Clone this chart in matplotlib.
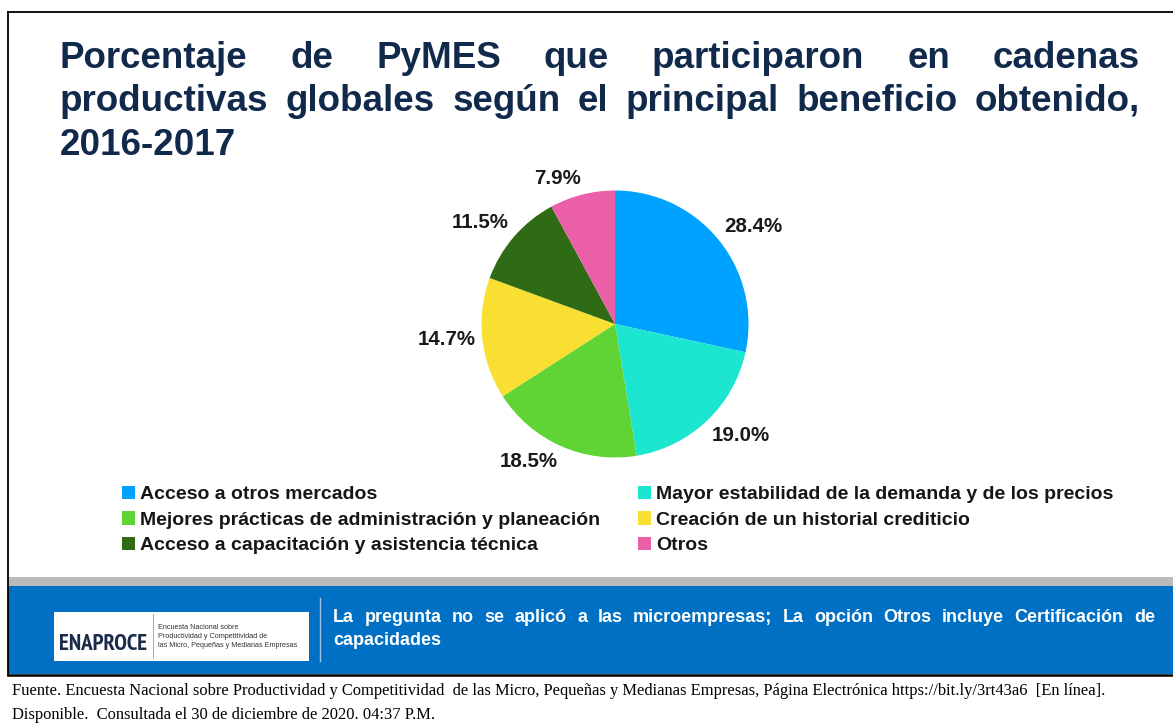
import matplotlib
matplotlib.use("Agg")
import matplotlib.pyplot as plt
from matplotlib.patches import Rectangle
from matplotlib.lines import Line2D
from matplotlib import font_manager

# datos
categorias = ['Acceso a otros mercados',
              'Mayor estabilidad de la demanda y de los precios',
              'Mejores prácticas de administración y planeación',
              'Creación de un historial crediticio',
              'Acceso a capacitación y asistencia técnica',
              'Otros']
porcentajes = [28.4, 19.0, 18.5, 14.7, 11.5, 7.9]
colores = ['#00A2FF', '#1CE6CF', '#5FD434', '#F8DF32', '#2E6B14', '#EA5FA8']

titulo = ['Porcentaje de PyMES que participaron en cadenas',
          'productivas globales según el principal beneficio obtenido,',
          '2016-2017']
nota = ['La pregunta no se aplicó a las microempresas; La opción Otros incluye Certificación de',
        'capacidades']
fuente = ['Fuente. Encuesta Nacional sobre Productividad y Competitividad  de las Micro, Pequeñas y Medianas Empresas, Página Electrónica https://bit.ly/3rt43a6  [En línea].',
          'Disponible.  Consultada el 30 de diciembre de 2020. 04:37 P.M.']

W, H = 1173, 723
fig = plt.figure(figsize=(W / 100, H / 100), dpi=100)
fig.patch.set_facecolor('white')
renderer = fig.canvas.get_renderer()


def fx(x):
    return x / W


def fy(y):
    return 1 - y / H


def justificar(linea, y, x0, x1, **kw):
    palabras = linea.split()
    textos = [fig.text(0, fy(y), p, va='baseline', ha='left', **kw) for p in palabras]
    anchos = [t.get_window_extent(renderer).width for t in textos]
    hueco = (x1 - x0 - sum(anchos)) / max(len(palabras) - 1, 1)
    x = x0
    for t, a in zip(textos, anchos):
        t.set_x(fx(x))
        x += a + hueco


def fuente_estrecha():
    # busca una fuente condensada en negrita para el logo
    cands = []
    for f in font_manager.fontManager.ttflist:
        nombre = (f.name + ' ' + f.fname).lower()
        estrecha = 'narrow' in nombre or 'condensed' in nombre or 'cond' in f.fname.lower()
        negrita = f.weight in (600, 700, 800, 900, 'bold', 'heavy', 'black', 'semibold')
        if estrecha and negrita and 'mono' not in nombre and 'serif' not in f.name.lower():
            cands.append(f)
    if not cands:
        return dict(family='Liberation Sans', fontweight='bold')
    cands.sort(key=lambda f: ('narrow' not in f.fname.lower(), f.fname))
    return dict(fontproperties=font_manager.FontProperties(fname=cands[0].fname))


# marco y franjas
fig.add_artist(Line2D([fx(8), fx(W)], [fy(12), fy(12)], color='black', lw=1.3))
fig.add_artist(Line2D([fx(8), fx(8)], [fy(12), fy(675)], color='black', lw=1.3))
fig.add_artist(Rectangle((fx(8), fy(586)), fx(W) - fx(8), fy(577) - fy(586),
                         color='#BBBBBB', lw=0))
fig.add_artist(Rectangle((fx(8), fy(674)), fx(W) - fx(8), fy(586) - fy(674),
                         color='#0070C4', lw=0))
fig.add_artist(Line2D([fx(8), fx(W)], [fy(675), fy(675)], color='black', lw=1.8))

# titulo
tit_kw = dict(fontsize=26.5, fontweight='bold', color='#11294B', family='Liberation Sans')
justificar(titulo[0], 68, 60, 1140, **tit_kw)
justificar(titulo[1], 111, 60, 1140, **tit_kw)
fig.text(fx(60), fy(155), titulo[2], va='baseline', ha='left', **tit_kw)

# pastel
cx, cy, r = 615, 324, 133.5
ax = fig.add_axes([fx(cx - r), fy(cy + r), (2 * r) / W, (2 * r) / H])
etiq = [f'{v:.1f}%' for v in porcentajes]
cunas, etiquetas = ax.pie(porcentajes, labels=etiq, colors=colores, startangle=90,
                          counterclock=False, labeldistance=1.05,
                          wedgeprops=dict(linewidth=0))
for t in etiquetas:
    t.set_fontsize(14.8)
    t.set_fontweight('bold')
    t.set_color('#1A1A1A')
    t.set_family('Liberation Sans')
    y = t.get_position()[1]
    if y > 0.3:
        t.set_va('bottom')
    elif y < -0.3:
        t.set_va('top')
    else:
        t.set_va('center')
ax.set_xlim(-1, 1)
ax.set_ylim(-1, 1)
ax.axis('off')

# leyenda (orden por filas)
orden = [0, 2, 4, 1, 3, 5]
leg = fig.legend([cunas[i] for i in orden], [categorias[i] for i in orden],
                 ncol=2, loc='upper left', bbox_to_anchor=(fx(122), fy(486)),
                 frameon=False, handlelength=0.68, handleheight=0.68,
                 handletextpad=0.25, columnspacing=1.95, labelspacing=0.41,
                 borderaxespad=0, borderpad=0,
                 prop=dict(family='Liberation Sans', weight='bold', size=14.0))
for t in leg.get_texts():
    t.set_color('#161616')

# logo
fig.add_artist(Rectangle((fx(54), fy(661)), fx(309) - fx(54), fy(612) - fy(661),
                         color='white', lw=0))
logo = fig.text(fx(59), fy(650), 'ENAPROCE', va='baseline', ha='left',
                color='#1B2A48', **fuente_estrecha())
logo.set_fontsize(20)
ancho = logo.get_window_extent(renderer).width
logo.set_fontsize(min(20 * 88 / ancho, 27))
fig.add_artist(Line2D([fx(153), fx(153)], [fy(614), fy(658)], color='#9A9A9A', lw=0.6))
for i, s in enumerate(['Encuesta Nacional sobre',
                       'Productividad y Competitividad de',
                       'las Micro, Pequeñas y Medianas Empresas']):
    fig.text(fx(158), fy(629 + 9 * i), s, va='baseline', ha='left', fontsize=5.2,
             color='#333333', family='Liberation Sans')
fig.add_artist(Line2D([fx(320), fx(320)], [fy(598), fy(661)], color='#9DC3E6', lw=1))

# nota
nota_kw = dict(fontsize=13, fontweight='bold', color='white', family='Liberation Sans')
justificar(nota[0], 622, 333, 1155, **nota_kw)
fig.text(fx(333), fy(645), nota[1], va='baseline', ha='left', **nota_kw)

# fuente
for i, s in enumerate(fuente):
    fig.text(fx(12), fy(695 + 24 * i), s, va='baseline', ha='left', fontsize=11.9,
             color='black', family='Liberation Serif')

fig.savefig('out.png', dpi=100)
